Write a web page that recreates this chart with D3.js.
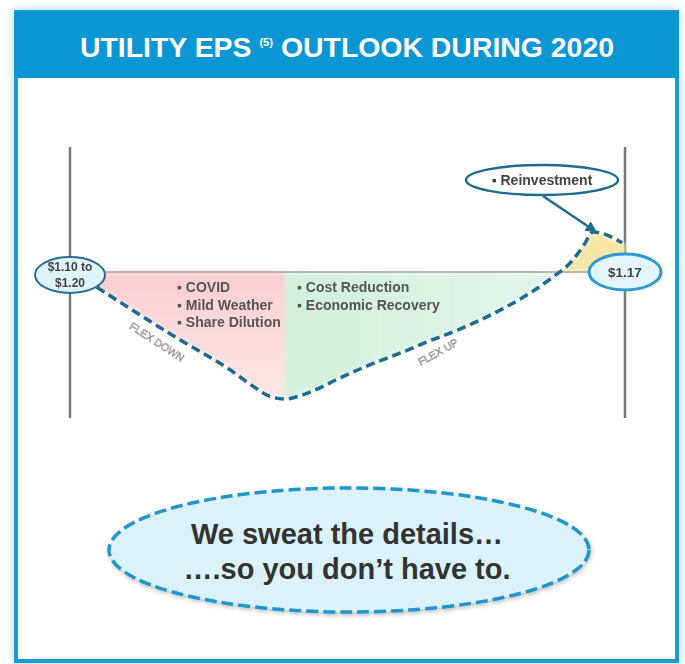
<!DOCTYPE html>
<html>
<head>
<meta charset="utf-8">
<script src="https://cdn.jsdelivr.net/npm/d3@7"></script>
<style>
  body { margin: 0; background: #fff; }
  text { font-family: "Liberation Sans", Arial, sans-serif; }
</style>
</head>
<body>
<svg id="chart" width="685" height="664"></svg>
<script>
// month of 2020 (0-12) and EPS flex in cents vs guidance
const pathMonth = [0.58, 2.27, 3.46, 4.00, 4.32, 4.65, 4.97, 5.36, 5.80, 6.49, 7.20, 7.72, 8.43, 9.30, 9.95, 10.44, 10.81, 11.09, 11.31, 11.94];
const pathFlex  = [-1.2, -5.1, -7.7, -9.1, -9.8, -10.0, -9.75, -9.2, -8.4, -7.3, -6.3, -5.5, -4.5, -3.0, -1.65, -0.4, 0.7, 2.0, 3.15, 2.3];

const downDrivers = ["COVID", "Mild Weather", "Share Dilution"];
const upDrivers = ["Cost Reduction", "Economic Recovery"];
const reinvest = ["Reinvestment"];
const startLabel = ["$1.10 to", "$1.20"];
const endLabel = ["$1.17"];
const splitMonth = 4.65;   // flex down -> flex up
const crossMonth = 10.7;   // curve crosses guidance line

const svg = d3.select("#chart");
const defs = svg.append("defs");

// soft glow around frame
const glow = defs.append("filter").attr("id", "glow")
  .attr("x", "-10%").attr("y", "-10%").attr("width", "120%").attr("height", "120%");
glow.append("feDropShadow").attr("dx", 0).attr("dy", 0).attr("stdDeviation", 5)
  .attr("flood-color", "#7cc8ec").attr("flood-opacity", 0.7);

const soft = defs.append("filter").attr("id", "soft")
  .attr("x", "-10%").attr("y", "-10%").attr("width", "120%").attr("height", "120%");
soft.append("feGaussianBlur").attr("stdDeviation", 2.5);

const shadow = defs.append("filter").attr("id", "shadow")
  .attr("x", "-10%").attr("y", "-10%").attr("width", "120%").attr("height", "130%");
shadow.append("feDropShadow").attr("dx", 1).attr("dy", 2).attr("stdDeviation", 2)
  .attr("flood-color", "#000").attr("flood-opacity", 0.25);

const gPink = defs.append("linearGradient").attr("id", "gPink").attr("x1", 0).attr("x2", 0).attr("y1", 0).attr("y2", 1);
gPink.append("stop").attr("offset", "0%").attr("stop-color", "#f7b9bc").attr("stop-opacity", 0.85);
gPink.append("stop").attr("offset", "100%").attr("stop-color", "#fbd6d6").attr("stop-opacity", 0.6);

const gGreen = defs.append("linearGradient").attr("id", "gGreen").attr("x1", 0).attr("x2", 1).attr("y1", 0).attr("y2", 0);
gGreen.append("stop").attr("offset", "0%").attr("stop-color", "#bfe8cf").attr("stop-opacity", 0.9);
gGreen.append("stop").attr("offset", "100%").attr("stop-color", "#d5f0de").attr("stop-opacity", 0.6);

const gTip = defs.append("linearGradient").attr("id", "gTip").attr("x1", 0).attr("x2", 1).attr("y1", 0).attr("y2", 0);
gTip.append("stop").attr("offset", "0%").attr("stop-color", "#c5ead2");
gTip.append("stop").attr("offset", "55%").attr("stop-color", "#cdebcf");
gTip.append("stop").attr("offset", "100%").attr("stop-color", "#fbe4a0");

defs.append("marker").attr("id", "arrow").attr("viewBox", "0 0 10 10")
  .attr("refX", 8).attr("refY", 5).attr("markerWidth", 4.5).attr("markerHeight", 4.5)
  .attr("orient", "auto")
  .append("path").attr("d", "M0,0L10,5L0,10z").attr("fill", "#1d6b92");

// frame
svg.append("rect").attr("x", 16).attr("y", 12).attr("width", 661).attr("height", 649)
  .attr("fill", "#fff").attr("stroke", "#1b9ad6").attr("stroke-width", 4)
  .attr("filter", "url(#glow)");
svg.append("rect").attr("x", 14).attr("y", 12).attr("width", 665).attr("height", 66)
  .attr("fill", "#0b97d3");

const title = svg.append("text").attr("x", 80).attr("y", 57)
  .attr("fill", "#fff")
  .attr("textLength", 534).attr("lengthAdjust", "spacingAndGlyphs")
  .style("font-weight", "bold").style("font-size", "28px");
title.append("tspan").text("UTILITY EPS ");
title.append("tspan").text("(5)").style("font-size", "11px").attr("dy", -11);
title.append("tspan").text(" OUTLOOK DURING 2020").attr("dy", 11);

// scales
const x = d3.scaleLinear().domain([0, 12]).range([70, 625]);
const y = d3.scaleLinear().domain([-10, 10]).range([399, 145]);

const pts = pathMonth.map((m, i) => [m, pathFlex[i]]);

// vertical year-start / year-end lines
svg.selectAll(".vline").data([0, 12]).join("line")
  .attr("x1", d => x(d)).attr("x2", d => x(d))
  .attr("y1", 147).attr("y2", 418)
  .attr("stroke", "#7a7a7a").attr("stroke-width", 2.5);

// area clips
const clip = (id, x0, x1, y0, y1) => defs.append("clipPath").attr("id", id)
  .append("rect").attr("x", x0).attr("y", y0).attr("width", x1 - x0).attr("height", y1 - y0);
clip("cDown", x(0.6), x(splitMonth), y(0), y(-11));
clip("cUp", x(splitMonth), x(12), y(0), y(-11));
clip("cTip", x(crossMonth) - 4, x(12), y(5), y(0));

const area = d3.area()
  .x(d => x(d[0])).y0(y(0)).y1(d => y(d[1]))
  .curve(d3.curveMonotoneX);

const fills = svg.append("g").attr("filter", "url(#soft)");
fills.append("path").datum(pts).attr("d", area).attr("fill", "url(#gPink)").attr("clip-path", "url(#cDown)");
fills.append("path").datum(pts).attr("d", area).attr("fill", "url(#gGreen)").attr("clip-path", "url(#cUp)");
fills.append("path").datum(pts.concat([[12, pathFlex[pathFlex.length - 1]]])).attr("d", area)
  .attr("fill", "url(#gTip)").attr("clip-path", "url(#cTip)");

// guidance line
svg.append("line").attr("x1", x(0.5)).attr("x2", x(11.5))
  .attr("y1", y(0)).attr("y2", y(0))
  .attr("stroke", "#a3a3a3").attr("stroke-width", 1.5);

// flex path
const line = d3.line().x(d => x(d[0])).y(d => y(d[1]))
  .curve(d3.curveMonotoneX);
svg.append("path").datum(pts).attr("d", line)
  .attr("fill", "none").attr("stroke", "#1d6b92")
  .attr("stroke-width", 3.5).attr("stroke-dasharray", "9,5");

// driver labels
svg.selectAll(".down").data(downDrivers).join("text")
  .attr("x", 177).attr("y", (d, i) => 292 + i * 17.5)
  .attr("fill", "#555").style("font-size", "14px").style("font-weight", "bold")
  .text(d => "\u25aa " + d);
svg.selectAll(".up").data(upDrivers).join("text")
  .attr("x", 297).attr("y", (d, i) => 292 + i * 17.5)
  .attr("fill", "#555").style("font-size", "14px").style("font-weight", "bold")
  .text(d => "\u25aa " + d);

svg.append("text").attr("transform", "translate(157,342) rotate(33)")
  .attr("text-anchor", "middle").attr("dy", "0.35em")
  .attr("fill", "#fff").attr("stroke", "#8a8a8a").attr("stroke-width", 0.6)
  .style("font-size", "10.5px").text("FLEX DOWN");
svg.append("text").attr("transform", "translate(438,352) rotate(-29)")
  .attr("text-anchor", "middle").attr("dy", "0.35em")
  .attr("fill", "#fff").attr("stroke", "#8a8a8a").attr("stroke-width", 0.6)
  .style("font-size", "10.5px").text("FLEX UP");

// reinvestment callout
svg.append("line").attr("x1", 543).attr("y1", 196).attr("x2", 595).attr("y2", 231)
  .attr("stroke", "#1d6b92").attr("stroke-width", 2.5).attr("marker-end", "url(#arrow)");
svg.append("ellipse").attr("cx", 542).attr("cy", 180).attr("rx", 76).attr("ry", 15)
  .attr("fill", "#fff").attr("stroke", "#1d6b92").attr("stroke-width", 2.5);
svg.append("text").attr("x", 542).attr("y", 180).attr("dy", "0.35em")
  .attr("text-anchor", "middle").attr("fill", "#444")
  .style("font-size", "14px").style("font-weight", "bold")
  .text("\u25aa " + reinvest[0]);

// start / end value bubbles
svg.append("ellipse").attr("cx", x(0)).attr("cy", 275).attr("rx", 35).attr("ry", 18)
  .attr("fill", "#dff3fa").attr("stroke", "#2c6f8e").attr("stroke-width", 2);
svg.selectAll(".start").data(startLabel).join("text")
  .attr("x", x(0)).attr("y", (d, i) => 267 + i * 16).attr("dy", "0.35em")
  .attr("text-anchor", "middle").attr("fill", "#444")
  .style("font-size", "12px").style("font-weight", "bold").text(d => d);

svg.append("ellipse").attr("cx", x(12)).attr("cy", 272).attr("rx", 36).attr("ry", 18)
  .attr("fill", "#e4f5fb").attr("stroke", "#2a9ad0").attr("stroke-width", 3);
svg.append("text").attr("x", x(12)).attr("y", 272).attr("dy", "0.35em")
  .attr("text-anchor", "middle").attr("fill", "#444")
  .style("font-size", "13.5px").style("font-weight", "bold").text(endLabel[0]);

// bottom message
svg.append("ellipse").attr("cx", 349).attr("cy", 550).attr("rx", 240).attr("ry", 62)
  .attr("fill", "#dcf2fa").attr("stroke", "#2196cc").attr("stroke-width", 3.5)
  .attr("stroke-dasharray", "12,5").attr("filter", "url(#shadow)");
svg.selectAll(".msg").data(["We sweat the details\u2026", "\u2026.so you don\u2019t have to."]).join("text")
  .attr("x", 347).attr("y", (d, i) => 544 + i * 35)
  .attr("text-anchor", "middle").attr("fill", "#333")
  .style("font-size", "29px").style("font-weight", "bold").text(d => d);
</script>
</body>
</html>
